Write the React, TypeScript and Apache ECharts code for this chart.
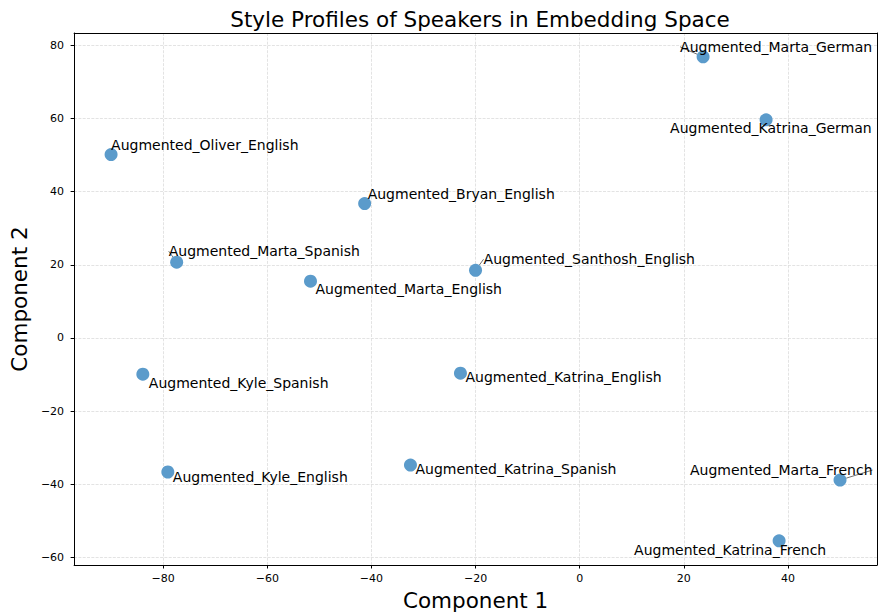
import React, { useEffect, useRef } from "react";
import * as echarts from "echarts";

const speakers = [
  "Augmented_Marta_German",
  "Augmented_Katrina_German",
  "Augmented_Oliver_English",
  "Augmented_Bryan_English",
  "Augmented_Marta_Spanish",
  "Augmented_Santhosh_English",
  "Augmented_Marta_English",
  "Augmented_Kyle_Spanish",
  "Augmented_Katrina_English",
  "Augmented_Kyle_English",
  "Augmented_Katrina_Spanish",
  "Augmented_Marta_French",
  "Augmented_Katrina_French",
];
const component1 = [23.7, 35.8, -90.0, -41.3, -77.4, -20.0, -51.7, -83.9, -22.9, -79.1, -32.5, 50.0, 38.3];
const component2 = [76.8, 59.6, 50.1, 36.7, 20.7, 18.5, 15.5, -9.9, -9.6, -36.6, -34.7, -38.8, -55.4];

// label placement (pixel offsets of label's left edge / vertical centre from the point)
const labelOffsets: [number, number][] = [
  [-23, -10],
  [-96, 8],
  [0, -10],
  [3, -10],
  [-8, -11],
  [8, -11],
  [5, 8],
  [6, 9],
  [5, 4],
  [5, 5],
  [5, 4],
  [-150, -10],
  [-145, 9],
];
const leaderLines = [true, false, false, false, true, true, false, false, false, false, false, true, false];

const FONT = "DejaVu Sans";
const SYMBOL = 13;
const X_MIN = -97.1;
const X_MAX = 57.1;
const Y_MIN = -62.0;
const Y_MAX = 83.3;

export default function App() {
  const ref = useRef<HTMLDivElement>(null);
  useEffect(() => {
    if (!ref.current) return;
    const chart = echarts.init(ref.current, undefined, { renderer: "svg" });
    const data = speakers.map((name, i) => ({
      name,
      value: [component1[i], component2[i]],
      label: {
        show: true,
        formatter: name,
        position: [labelOffsets[i][0] + SYMBOL / 2, labelOffsets[i][1] + SYMBOL / 2],
        align: "left",
        verticalAlign: "middle",
      },
      labelLine: {
        show: leaderLines[i],
        lineStyle: { color: "#707070", width: 1 },
      },
    }));
    const splitLine = {
      show: true,
      lineStyle: { color: "#dcdcdc", width: 0.8, type: [3, 1.3] as any },
    };
    const fmt = (v: number) => (v < 0 ? "\u2212" + Math.abs(v) : String(v));
    const frameAxis = {
      type: "value",
      z: 10,
      axisLine: { show: true, onZero: false, lineStyle: { color: "#000", width: 1 } },
      axisTick: { show: false },
      axisLabel: { show: false },
      splitLine: { show: false },
    };
    chart.setOption({
      animation: false,
      backgroundColor: "#ffffff",
      textStyle: { fontFamily: FONT },
      title: {
        text: "Style Profiles of Speakers in Embedding Space",
        left: 475,
        top: 3,
        textAlign: "center",
        textStyle: { fontFamily: FONT, fontSize: 21.5, fontWeight: "normal", color: "#000" },
      },
      grid: {
        left: 73,
        right: 1,
        top: 33,
        bottom: 50,
        show: false,
      },
      xAxis: [
        {
          type: "value",
          min: X_MIN,
          max: X_MAX,
          splitNumber: 8,
          minInterval: 20,
          maxInterval: 20,
          name: "Component 1",
          nameLocation: "middle",
          nameGap: 24,
          nameTextStyle: { fontFamily: FONT, fontSize: 21.5, color: "#000" },
          axisLine: { show: true, onZero: false, lineStyle: { color: "#000", width: 1 } },
          axisTick: { show: true, length: 3.5, lineStyle: { color: "#000" } },
          axisLabel: {
            fontFamily: FONT,
            fontSize: 11,
            color: "#000",
            margin: 8,
            showMinLabel: false,
            showMaxLabel: false,
            formatter: fmt,
          },
          splitLine,
        },
        { ...frameAxis, position: "top", min: X_MIN, max: X_MAX },
      ],
      yAxis: [
        {
          type: "value",
          min: Y_MIN,
          max: Y_MAX,
          splitNumber: 8,
          minInterval: 20,
          maxInterval: 20,
          name: "Component 2",
          nameLocation: "middle",
          nameGap: 39,
          nameTextStyle: { fontFamily: FONT, fontSize: 21.5, color: "#000" },
          axisLine: { show: true, onZero: false, lineStyle: { color: "#000", width: 1 } },
          axisTick: { show: true, length: 3.5, lineStyle: { color: "#000" } },
          axisLabel: {
            fontFamily: FONT,
            fontSize: 11,
            color: "#000",
            margin: 10,
            showMinLabel: false,
            showMaxLabel: false,
            formatter: fmt,
          },
          splitLine,
        },
        { ...frameAxis, position: "right", min: Y_MIN, max: Y_MAX },
      ],
      series: [
        {
          type: "scatter",
          symbol: "circle",
          symbolSize: SYMBOL,
          itemStyle: { color: "#5b9bcb", opacity: 1 },
          label: {
            show: true,
            fontFamily: FONT,
            fontSize: 14,
            color: "#000",
          },
          labelLine: { show: false },
          emphasis: { disabled: true },
          data,
        },
      ],
    });
    return () => chart.dispose();
  }, []);
  return (
    <div
      ref={ref}
      style={{ position: "fixed", left: 0, top: 0, width: 878, height: 616 }}
    />
  );
}
